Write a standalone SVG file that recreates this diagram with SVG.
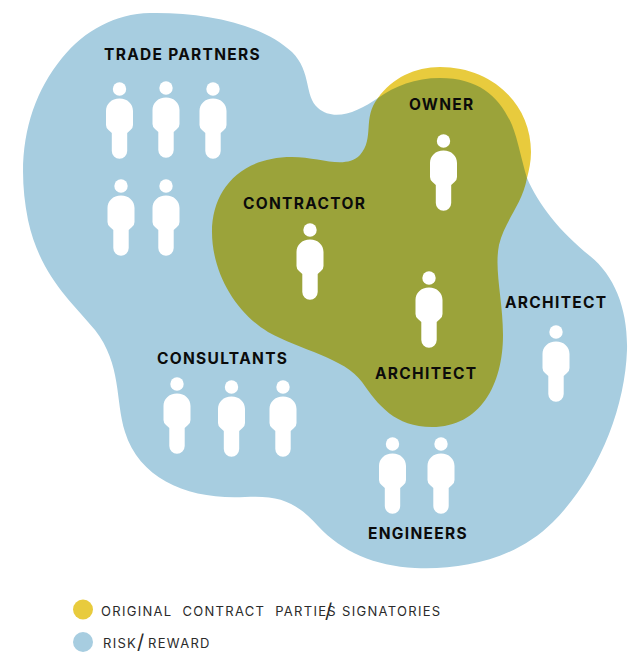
<svg xmlns="http://www.w3.org/2000/svg" xmlns:xlink="http://www.w3.org/1999/xlink" width="630" height="652" viewBox="0 0 630 652">
<style>
.lb{font-family:"Inter","Liberation Sans",sans-serif;font-weight:700;font-size:15.5px;letter-spacing:1.3px;fill:#0b0b0b}
.lg{font-family:"Inter","Liberation Sans",sans-serif;font-weight:400;font-size:13px;letter-spacing:1.3px;fill:#2b2b2b}
.p{fill:#fff}
</style>
<defs>
<g id="person"><circle cx="0" cy="0" r="6.7"/><path d="M0,9.5C8,9.5 13.5,15 13.5,22V36Q13.5,39 11,41L7.7,44V62A7.7,7.7 0 0 1 -7.7,62V44L-11,41Q-13.5,39 -13.5,36V22C-13.5,15 -8,9.5 0,9.5Z"/></g>
</defs>
<g id="blobs">
<path id="risk-blob" fill="#a7cde0" d="M150,13C205,12 262,24 292,52C312,72 304,96 318,108C334,122 358,112 378,98L527,178C538,204 560,232 590,256C615,276 628,310 627,350C625,410 597,478 553,522C515,560 462,570 415,568C375,566 342,552 318,526C296,502 280,495 245,497C190,500 140,480 125,432C115,400 122,365 95,330C70,300 40,275 28,220C15,155 28,100 62,58C85,30 115,14 150,13Z"/>
<path id="signatory-blob" fill="#e8cb3d" d="M378,98C392,78 415,67 440,67C490,67 531,102 531,152C531,162 529,170 527,178L500,140L400,100Z"/>
<path id="overlap-blob" fill="#9ba33a" d="M378,98C395,86 415,78 440,78C480,78 500,98 512,125C518,140 522,162 527,178C522,205 505,220 499,245C494,270 503,300 503,335C503,385 480,427 432,427C395,427 378,405 362,382C345,358 300,350 268,332C235,312 212,272 212,232C212,190 240,157 292,157C320,157 345,170 360,155C375,138 362,118 378,98Z"/>
</g>
<g id="connectors"/>
<g id="trade-partners">
<text class="lb" x="104" y="60">TRADE PARTNERS</text>
<use href="#person" class="p" x="119.5" y="89"/><use href="#person" class="p" x="166" y="88"/><use href="#person" class="p" x="213" y="89"/><use href="#person" class="p" x="121" y="186"/><use href="#person" class="p" x="166" y="186"/>
</g>
<g id="owner"><text class="lb" x="409" y="110">OWNER</text><use href="#person" class="p" x="443.5" y="141"/></g>
<g id="contractor"><text class="lb" x="243" y="209">CONTRACTOR</text><use href="#person" class="p" x="310" y="230"/></g>
<g id="architect-inner"><text class="lb" x="375" y="379">ARCHITECT</text><use href="#person" class="p" x="429" y="278"/></g>
<g id="architect-outer"><text class="lb" x="505" y="308">ARCHITECT</text><use href="#person" class="p" x="556" y="332"/></g>
<g id="consultants"><text class="lb" x="157" y="364">CONSULTANTS</text>
<use href="#person" class="p" x="177" y="384"/><use href="#person" class="p" x="231.5" y="387"/><use href="#person" class="p" x="283" y="387"/></g>
<g id="engineers"><text class="lb" x="368" y="539">ENGINEERS</text>
<use href="#person" class="p" x="392.5" y="444"/><use href="#person" class="p" x="441" y="444"/></g>
<g id="legend">
<circle cx="83" cy="609.5" r="10" fill="#e8cb3d"/><circle cx="83" cy="642" r="10" fill="#a7cde0"/>
<text class="lg" x="101" y="616" xml:space="preserve">ORIGINAL  CONTRACT  PARTIES</text>
<text x="325" y="618" font-family="Inter,'Liberation Sans',sans-serif" font-size="20" fill="#2b2b2b">/</text>
<text class="lg" x="342" y="616">SIGNATORIES</text>
<text class="lg" x="103" y="648">RISK</text>
<text x="137" y="649" font-family="Inter,'Liberation Sans',sans-serif" font-size="20" fill="#2b2b2b">/</text>
<text class="lg" x="148" y="648">REWARD</text>
</g>
</svg>
